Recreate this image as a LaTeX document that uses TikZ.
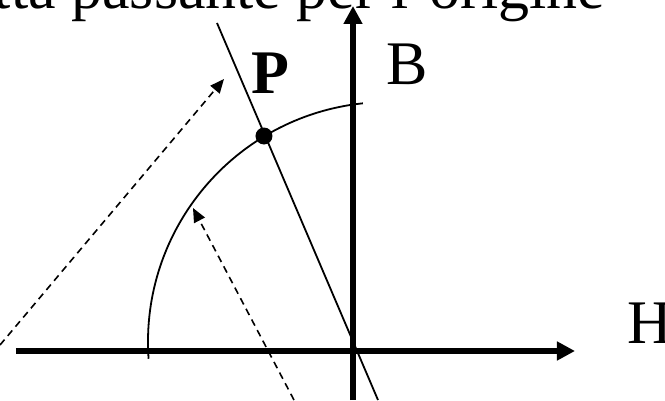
\documentclass[tikz,border=0pt]{standalone}
\usepackage{fontspec}
\setmainfont{Liberation Serif}
\usetikzlibrary{arrows.meta, positioning}
\tikzset{
  every picture/.style={x=1pt, y=1pt, line width=1.8pt},
  axis/.style={-{Triangle[length=18pt, width=18pt]}, line width=5.5pt},
  hint/.style={-{Triangle[length=14pt, width=12pt]}, dash pattern=on 7pt off 5pt, line width=1.6pt},
  dot/.style={circle, fill, inner sep=0pt, minimum size=17pt},
  lab/.style={font=\fontsize{62}{70}\selectfont, inner sep=0pt},
}

\begin{document}
\begin{tikzpicture}
  \useasboundingbox (-353,-49) rectangle (312,351);
  % axes
  \coordinate (hl) at (-337,0);
  \coordinate (hr) at (222,0);
  \coordinate (vb) at (0,-49);
  \coordinate (vt) at (0,345);
  \draw[axis] (hl) -- (hr);
  \draw[axis] (vb) -- (vt);
  % line through the origin and the arc
  \coordinate (lt) at (-136,328);
  \coordinate (lb) at (25,-49);
  \coordinate (c) at (35,9);
  \draw (lt) -- (lb);
  \draw (c) ++(184:240) arc[start angle=184, end angle=96, radius=240];
  \node[dot] (p) at (-89,215) {};
  % dashed arrows
  \coordinate (d1s) at (-353,6);
  \coordinate (d1e) at (-129,272);
  \coordinate (d2s) at (-59,-49);
  \coordinate (d2e) at (-160,143);
  \draw[hint] (d1s) -- (d1e);
  \draw[hint] (d2s) -- (d2e);
  % labels
  \node[lab, anchor=base east] (title) at (253,342) {tta passante per l'origine};
  \node[lab, anchor=base] (plab) at (-83,258) {\textbf{P}};
  \node[lab, anchor=base] (blab) at (54.5,266) {B};
  \node[lab, anchor=base west] (hlab) at (274,8) {H};
\end{tikzpicture}
\end{document}
